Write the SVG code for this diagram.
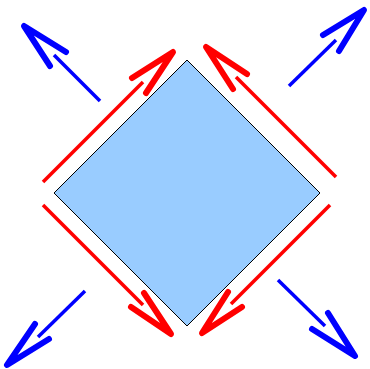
<svg xmlns="http://www.w3.org/2000/svg" width="370" height="369" viewBox="0 0 370 369">
<style>
.shaft{fill:none;stroke-width:3.5;stroke-linecap:butt}
.head{fill:none;stroke-width:6;stroke-linecap:round;stroke-linejoin:round}
.red{stroke:#ff0000}
.blue{stroke:#0000ff}
</style>
<rect width="370" height="369" fill="#ffffff"/>
<g id="diamond">
<polygon points="187,60 320,193 187,326 54,193" fill="#99ccff" stroke="#000000" stroke-width="1"/>
</g>
<g id="connectors">
<g id="red-nw">
<line class="shaft red" x1="43" y1="182" x2="143" y2="82"/>
<polyline class="head red" points="132,78 173,52 146,93"/>
</g>
<g id="red-ne">
<line class="shaft red" x1="336" y1="177" x2="236" y2="77"/>
<polyline class="head red" points="247,74 206,47 233,89"/>
</g>
<g id="red-sw">
<line class="shaft red" x1="43" y1="205" x2="143" y2="305"/>
<polyline class="head red" points="131,307 171,334 144,293"/>
</g>
<g id="red-se">
<line class="shaft red" x1="330" y1="205" x2="231" y2="304"/>
<polyline class="head red" points="242,307 202,333 228,292"/>
</g>
<g id="blue-nw">
<line class="shaft blue" x1="100" y1="101" x2="54" y2="55"/>
<polyline class="head blue" points="66,52 24,26 50,66"/>
</g>
<g id="blue-ne">
<line class="shaft blue" x1="289" y1="86" x2="336" y2="40"/>
<polyline class="head blue" points="323,35 364,10 339,51"/>
</g>
<g id="blue-sw">
<line class="shaft blue" x1="85" y1="291" x2="38" y2="337"/>
<polyline class="head blue" points="35,324 7,365 49,339"/>
</g>
<g id="blue-se">
<line class="shaft blue" x1="278" y1="280" x2="325" y2="326"/>
<polyline class="head blue" points="328,313 355,356 312,329"/>
</g>
</g>
</svg>
